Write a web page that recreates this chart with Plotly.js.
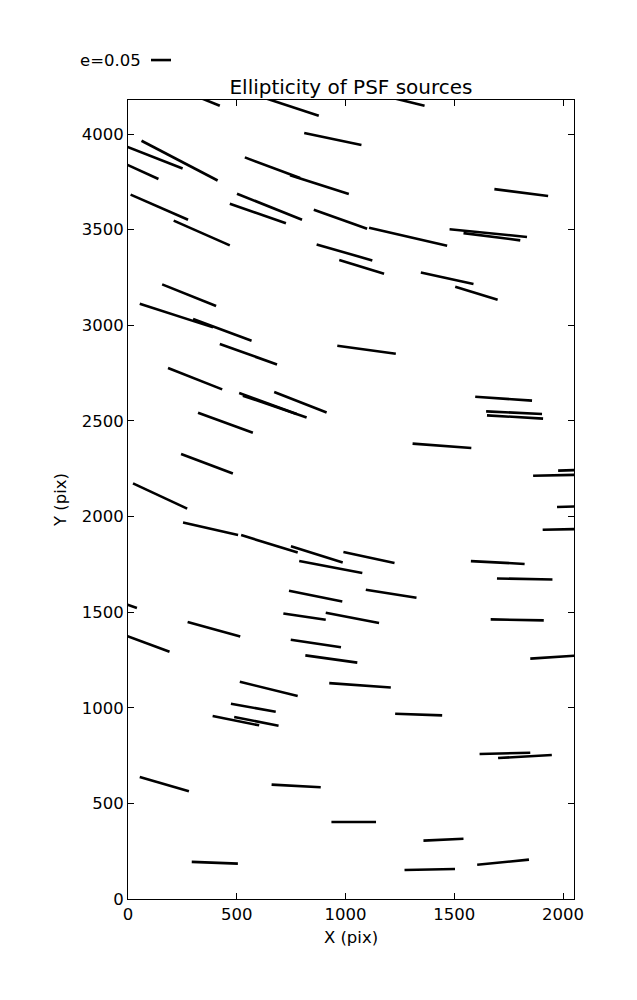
<!DOCTYPE html>
<html>
<head>
<meta charset="utf-8">
<script src="https://cdn.plot.ly/plotly-3.0.1.min.js"></script>
<style>html,body{margin:0;padding:0;background:#fff;}#chart{width:637px;height:1000px;}</style>
</head>
<body>
<div id="chart"></div>
<script>
// Whisker segments (start / end) in detector pixel coordinates
const x0 = [193,616,1136,810,-11,62,-20,537,745,1684,12,501,468,854,210,1108,1478,1542,867,971,1346,1504,157,54,299,422,962,184,511,528,672,322,244,23,1596,1646,1650,1308,1862,1977,1972,1906,253,520,749,990,787,1576,1696,740,1093,-153,714,909,1667,274,-61,748,815,1849,514,925,473,389,488,1228,1616,1701,54,660,935,1358,293,1271,1605];
const y0 = [4253,4193,4211,4005,3937,3965,3848,3878,3784,3712,3683,3688,3636,3604,3547,3510,3502,3482,3423,3341,3276,3202,3214,3113,3033,2902,2893,2777,2646,2632,2651,2543,2327,2173,2626,2550,2529,2381,2213,2240,2050,1931,1969,1903,1844,1814,1767,1767,1676,1612,1617,1595,1493,1497,1462,1448,1399,1356,1274,1257,1136,1129,1021,957,952,969,758,737,638,598,403,305,194,152,179];
const x1 = [422,877,1363,1073,251,412,140,791,1015,1931,276,800,726,1099,468,1467,1834,1803,1123,1177,1588,1699,405,391,568,685,1231,433,775,821,913,574,482,272,1857,1903,1908,1578,2103,2172,2172,2126,506,780,987,1225,1077,1823,1951,985,1326,41,909,1154,1911,516,191,979,1054,2103,780,1208,679,603,692,1444,1849,1948,280,886,1140,1542,505,1503,1843];
const y1 = [4148,4096,4148,3943,3820,3757,3765,3770,3686,3676,3552,3552,3533,3505,3418,3416,3462,3444,3339,3270,3216,3134,3101,2989,2919,2795,2851,2665,2536,2518,2544,2438,2225,2041,2606,2536,2512,2358,2219,2247,2057,1936,1903,1812,1760,1757,1705,1752,1671,1556,1575,1522,1460,1443,1457,1373,1293,1316,1236,1276,1061,1106,979,908,906,960,765,753,563,584,403,315,185,157,206];

const xTicks = [0, 500, 1000, 1500, 2000];
const yTicks = [0, 500, 1000, 1500, 2000, 2500, 3000, 3500, 4000];
const keyLabel = 'e=0.05';

const xs = [], ys = [];
for (let i = 0; i < x0.length; i++) {
  xs.push(x0[i], x1[i], null);
  ys.push(y0[i], y1[i], null);
}

const font = "'DejaVu Sans', sans-serif";

const trace = {
  type: 'scatter', mode: 'lines', x: xs, y: ys,
  line: {color: '#000', width: 2.6},
  hoverinfo: 'skip', showlegend: false
};

const axisCommon = {
  showgrid: false, zeroline: false,
  showline: true, mirror: 'ticks', linecolor: '#000', linewidth: 1,
  ticks: 'inside', ticklen: 6, tickwidth: 1, tickcolor: '#000',
  tickfont: {family: font, size: 16.5, color: '#000'},
  tickmode: 'array'
};

const layout = {
  width: 637, height: 1000,
  margin: {l: 128, r: 63, t: 100, b: 101},
  paper_bgcolor: '#fff', plot_bgcolor: '#fff',
  title: {text: 'Ellipticity of PSF sources', font: {family: font, size: 20, color: '#000'},
          x: 0.5, xref: 'paper', xanchor: 'center', y: 0.913, yref: 'container', yanchor: 'middle'},
  xaxis: Object.assign({}, axisCommon, {
    range: [0, 2050], tickvals: xTicks, ticktext: xTicks.map(String),
    title: {text: 'X (pix)', font: {family: font, size: 16.5, color: '#000'}, standoff: 8}
  }),
  yaxis: Object.assign({}, axisCommon, {
    range: [0, 4178], tickvals: yTicks, ticktext: yTicks.map(String),
    title: {text: 'Y (pix)', font: {family: font, size: 16.5, color: '#000'}, standoff: 10}
  }),
  annotations: [{
    text: keyLabel, xref: 'paper', yref: 'paper', x: 0.034, y: 1.050,
    xanchor: 'right', yanchor: 'middle', showarrow: false,
    font: {family: font, size: 16.5, color: '#000'}
  }],
  shapes: [{
    type: 'line', xref: 'paper', yref: 'paper', x0: 0.0516, x1: 0.0964, y0: 1.050, y1: 1.050,
    line: {color: '#000', width: 2.6}
  }]
};

Plotly.newPlot('chart', [trace], layout, {displayModeBar: false, staticPlot: true});
</script>
</body>
</html>
